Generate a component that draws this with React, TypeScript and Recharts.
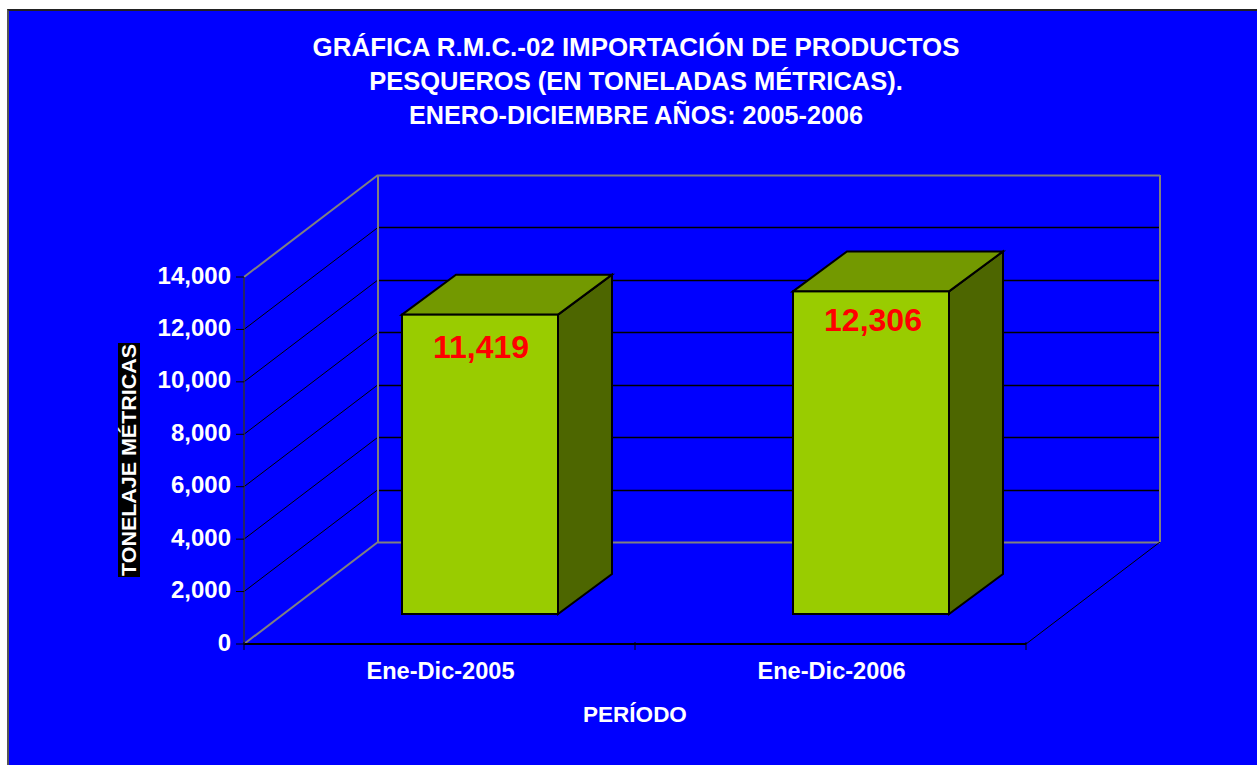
import { BarChart, Bar, XAxis, YAxis, CartesianGrid, LabelList } from 'recharts';

const periods = ['Ene-Dic-2005', 'Ene-Dic-2006'];
const tons = [11419, 12306];
const yTicks = [0, 2000, 4000, 6000, 8000, 10000, 12000, 14000];
const titleLines = [
  'GRÁFICA R.M.C.-02 IMPORTACIÓN DE PRODUCTOS',
  'PESQUEROS (EN TONELADAS MÉTRICAS).',
  'ENERO-DICIEMBRE AÑOS: 2005-2006',
];

const data = periods.map((period, i) => ({ period, tons: tons[i] }));

const FONT = '"Liberation Sans", Arial, sans-serif';
const TITLE_SIZES = [25.9, 25.5, 25.2];
const PLOT_TOP = 277;
const PLOT_BOTTOM = 644;

// depth of the fake 3D floor, and where the bars stand on it
const WALL_DX = 134;
const WALL_DY = -102;
const BAR_DX = 40;
const BAR_DY = -30;
const BOX_DX = 54;
const BOX_DY = -40;

const fmt = (v: number) => v.toLocaleString('en-US');

function WallLine(props: any) {
  const { x1, x2, y1 } = props;
  const isTop = Math.abs(y1 - PLOT_TOP) < 1;
  const isFloor = Math.abs(y1 - PLOT_BOTTOM) < 1;
  const backY = y1 + WALL_DY;
  // snap to a pixel row so every back wall line is equally dark
  const rowY = Math.round(backY) + 0.5;
  const edge = isTop || isFloor ? '#808080' : '#000000';
  return (
    <g>
      <line x1={x1} y1={y1} x2={x1 + WALL_DX} y2={backY} stroke={edge} strokeWidth={isTop || isFloor ? 2 : 1} />
      <line
        x1={x1 + WALL_DX}
        y1={rowY}
        x2={x2 + WALL_DX}
        y2={rowY}
        stroke={edge}
        strokeWidth={isTop || isFloor ? 2 : 1.5}
      />
      {isTop && (
        <>
          <line x1={x1 + WALL_DX} y1={backY} x2={x1 + WALL_DX} y2={PLOT_BOTTOM + WALL_DY} stroke="#808080" strokeWidth={2} />
          <line x1={x2 + WALL_DX} y1={backY} x2={x2 + WALL_DX} y2={PLOT_BOTTOM + WALL_DY} stroke="#808080" strokeWidth={2} />
        </>
      )}
      {isFloor && <line x1={x2} y1={y1} x2={x2 + WALL_DX} y2={backY} stroke="#000000" strokeWidth={1} />}
    </g>
  );
}

function Box3D(props: any) {
  const { x, y, width, height } = props;
  const left = x + BAR_DX;
  const top = y + BAR_DY;
  const right = left + width;
  const bottom = top + height;
  return (
    <g stroke="#000000" strokeWidth={2} strokeLinejoin="miter">
      <polygon
        points={`${right},${top} ${right + BOX_DX},${top + BOX_DY} ${right + BOX_DX},${bottom + BOX_DY} ${right},${bottom}`}
        fill="#4D6600"
      />
      <polygon
        points={`${left},${top} ${left + BOX_DX},${top + BOX_DY} ${right + BOX_DX},${top + BOX_DY} ${right},${top}`}
        fill="#739900"
      />
      <rect x={left} y={top} width={width} height={height} fill="#99CC00" />
    </g>
  );
}

function BarValue(props: any) {
  const { x, y, width, value, index } = props;
  // the value labels were hand placed in the original
  const nudge = index === 0 ? { dx: 1, dy: 32 } : { dx: 2, dy: 29 };
  return (
    <text
      x={x + BAR_DX + width / 2 + nudge.dx}
      y={y + BAR_DY + nudge.dy}
      textAnchor="middle"
      dominantBaseline="central"
      fill="#FF0000"
      fontFamily={FONT}
      fontWeight="bold"
      fontSize={32}
    >
      {fmt(value)}
    </text>
  );
}

function PeriodTick(props: any) {
  const { x, y, width, payload, index } = props;
  const band = width / periods.length;
  const axisY = y - 10;
  return (
    <g>
      <line x1={x - band / 2} y1={axisY} x2={x - band / 2} y2={axisY + 8} stroke="#000000" />
      {index === periods.length - 1 && (
        <line x1={x + band / 2} y1={axisY} x2={x + band / 2} y2={axisY + 8} stroke="#000000" />
      )}
      <text
        x={x + 1}
        y={axisY + 29}
        textAnchor="middle"
        dominantBaseline="central"
        fill="#FFFFFF"
        fontFamily={FONT}
        fontWeight="bold"
        fontSize={23.6}
      >
        {payload.value}
      </text>
    </g>
  );
}

function TonnageLabel() {
  const cx = 129;
  const cy = 460;
  return (
    <g transform={`rotate(-90 ${cx} ${cy})`}>
      <rect x={cx - 117} y={cy - 11} width={234} height={22} fill="#000000" />
      <text
        x={cx}
        y={cy}
        textAnchor="middle"
        dominantBaseline="central"
        fill="#FFFFFF"
        fontFamily={FONT}
        fontWeight="bold"
        fontSize={20}
        textLength={232}
        lengthAdjust="spacingAndGlyphs"
      >
        TONELAJE MÉTRICAS
      </text>
    </g>
  );
}

export default function App() {
  return (
    <div style={{ position: 'absolute', left: 0, top: 0, width: 1257, height: 765, overflow: 'hidden', background: '#fff' }}>
      <div
        style={{
          position: 'absolute',
          left: 7,
          top: 9,
          width: 1250,
          height: 756,
          boxSizing: 'border-box',
          background: '#0000FF',
          borderLeft: '2px solid #555',
          borderTop: '2px solid #222',
        }}
      />
      <BarChart
        width={1257}
        height={765}
        data={data}
        margin={{ top: PLOT_TOP, right: 231, bottom: 0, left: 0 }}
        barSize={156}
        style={{ position: 'absolute', left: 0, top: 0 }}
      >
        <CartesianGrid vertical={false} horizontal={(p: any) => <WallLine key={p.key} {...p} />} />
        <XAxis
          dataKey="period"
          height={121}
          axisLine={{ stroke: '#000000', strokeWidth: 2 }}
          tickLine={false}
          tick={(p: any) => <PeriodTick {...p} />}
          label={{
            value: 'PERÍODO',
            position: 'insideBottom',
            offset: 43,
            fill: '#FFFFFF',
            fontFamily: FONT,
            fontWeight: 'bold',
            fontSize: 22.5,
          }}
        />
        <YAxis
          width={244}
          domain={[0, 14000]}
          ticks={yTicks}
          interval={0}
          tickSize={8}
          tickMargin={5}
          tickFormatter={fmt}
          axisLine={{ stroke: '#333333', strokeWidth: 1.5 }}
          tickLine={{ stroke: '#000000' }}
          tick={{ fill: '#FFFFFF', fontFamily: FONT, fontWeight: 'bold', fontSize: 24, dy: -2 }}
          label={{ content: () => <TonnageLabel /> }}
        />
        <Bar dataKey="tons" isAnimationActive={false} shape={(p: any) => <Box3D {...p} />}>
          <LabelList dataKey="tons" content={(p: any) => <BarValue {...p} />} />
        </Bar>
        {titleLines.map((line, i) => (
          <text
            key={line}
            x={636}
            y={56 + i * 34}
            textAnchor="middle"
            fill="#FFFFFF"
            fontFamily={FONT}
            fontWeight="bold"
            fontSize={TITLE_SIZES[i]}
          >
            {line}
          </text>
        ))}
      </BarChart>
    </div>
  );
}
